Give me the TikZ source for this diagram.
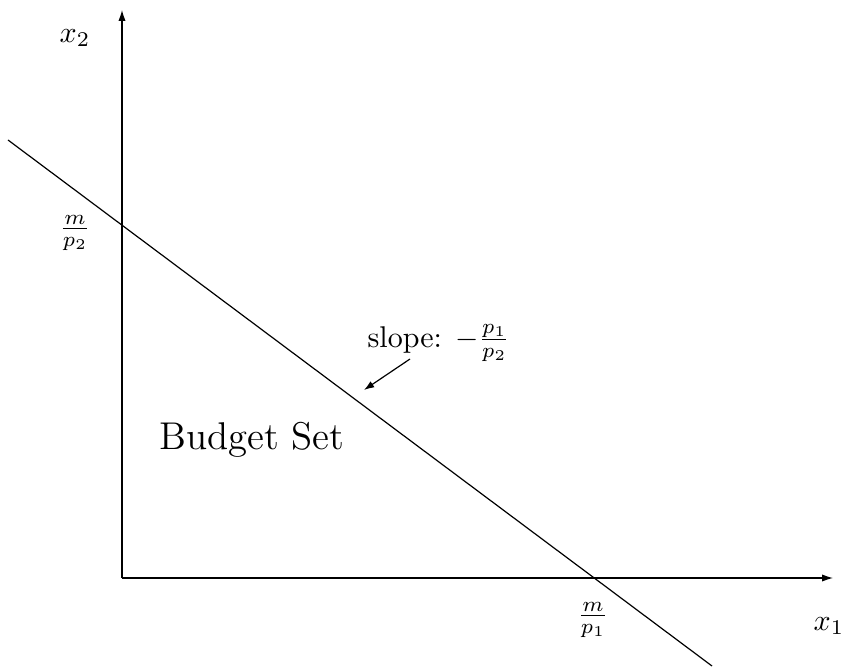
\documentclass[tikz,border=0pt]{standalone}
\usetikzlibrary{arrows.meta}
\begin{document}
\begin{tikzpicture}[x=0.3333pt,y=-0.3333pt,
  axis/.style={line width=0.4pt,-{Latex[length=3.6pt,width=2.4pt]}},
  lbl/.style={inner sep=0pt}]
\useasboundingbox (0,0) rectangle (847,668);
\coordinate (O) at (122,578);
\coordinate (xend) at (833,578);
\coordinate (yend) at (122,10);
\coordinate (la) at (8,140);
\coordinate (lb) at (712,666);
\coordinate (sa) at (410,359);
\coordinate (sb) at (364,390);
\draw[axis] (O) -- (xend);
\draw[axis] (O) -- (yend);
\draw[line width=0.4pt] (la) -- (lb);
\node[lbl] (x2) at (75,38) {$x_2$};
\node[lbl] (x1) at (829,626) {$x_1$};
\node[lbl] (mp2) at (75,233) {$\frac{m}{p_2}$};
\node[lbl] (mp1) at (593,620) {$\frac{m}{p_1}$};
\node[lbl,anchor=base west] (slope) at (367,347) {slope: $-\frac{p_1}{p_2}$};
\node[lbl] (bs) at (252,440) {\fontsize{12.9}{15}\selectfont Budget Set};
\draw[line width=0.4pt,-{Latex[length=3.4pt,width=2.4pt]}] (sa) -- (sb);
\end{tikzpicture}
\end{document}
